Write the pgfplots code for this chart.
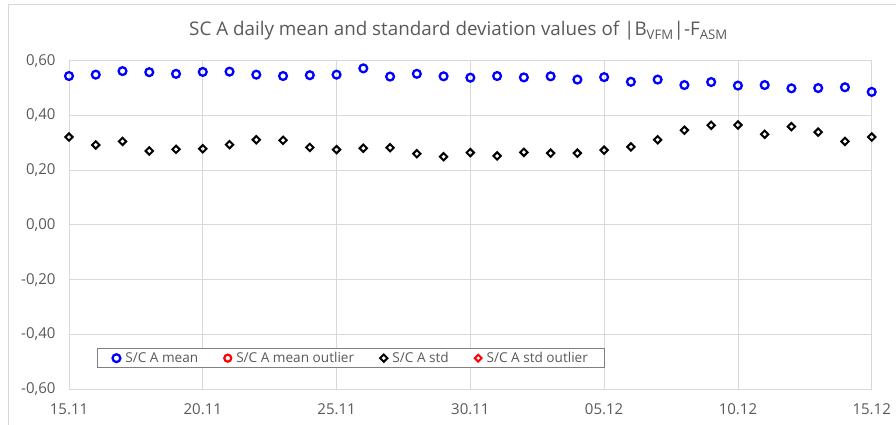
\documentclass[border=0pt]{standalone}
\usepackage{fontspec}
\setmainfont{Open Sans}
\usepackage{pgfplots}
\pgfplotsset{compat=1.18}
\definecolor{txtgray}{HTML}{595959}
\definecolor{gridgray}{HTML}{D9D9D9}
\definecolor{legbox}{HTML}{808080}
\definecolor{mblue}{RGB}{0,0,255}
\definecolor{mred}{RGB}{255,0,0}
\begin{document}
\begin{tikzpicture}
\path[use as bounding box] (-69pt,-36pt) rectangle (827pt,389pt);
\draw[gridgray,line width=1pt] (-60pt,-40pt) -- (-60pt,384pt) -- (830pt,384pt);
\begin{axis}[
  scale only axis,
  width=802.7pt, height=328.3pt,
  xmin=0, xmax=30, ymin=-0.6, ymax=0.6,
  xtick={0,5,10,15,20,25,30},
  xticklabels={15.11,20.11,25.11,30.11,05.12,10.12,15.12},
  ytick={-0.6,-0.4,-0.2,0,0.2,0.4,0.6},
  yticklabels={{-0,60},{-0,40},{-0,20},{0,00},{0,20},{0,40},{0,60}},
  major tick length=0pt,
  grid=major,
  major grid style={draw=gridgray, line width=0.8pt},
  axis line style={draw=none},
  tick label style={font=\fontsize{15}{18}\selectfont, text=txtgray},
  yticklabel style={xshift=-10pt},
  xticklabel style={yshift=-11pt},
  clip=false,
  legend columns=4,
  legend style={at={(0.3516,0.064)}, anchor=south, draw=legbox, line width=0.8pt,
    font=\fontsize{13.6}{16}\selectfont, text=txtgray, inner xsep=15pt, inner ysep=1.5pt,
    /tikz/every odd column/.append style={column sep=3pt},
    /tikz/every even column/.append style={column sep=24pt}},
  legend image code/.code={\draw[mark repeat=2,mark phase=2,#1] plot coordinates {(0pt,0pt)(5pt,0pt)(10pt,0pt)};},
]
\addplot[only marks, mark=o, mark size=3.9pt, mblue, mark options={line width=2.3pt}] coordinates {
(0,0.544) (1,0.549) (2,0.562) (3,0.558) (4,0.552) (5,0.559) (6,0.560) (7,0.549)
(8,0.544) (9,0.547) (10,0.549) (11,0.572) (12,0.542) (13,0.552) (14,0.543) (15,0.538)
(16,0.544) (17,0.539) (18,0.543) (19,0.531) (20,0.540) (21,0.523) (22,0.531) (23,0.511)
(24,0.522) (25,0.509) (26,0.511) (27,0.499) (28,0.500) (29,0.503) (30,0.486)
};
\addlegendentry{S/C A mean}
\addlegendimage{only marks, mark=o, mark size=3.5pt, mred, mark options={line width=2.2pt}}
\addlegendentry{S/C A mean outlier}
\addplot[only marks, mark=square, mark size=2.6pt, black, mark options={rotate=45, line width=2pt}] coordinates {
(0,0.321) (1,0.292) (2,0.305) (3,0.270) (4,0.276) (5,0.278) (6,0.293) (7,0.311)
(8,0.309) (9,0.283) (10,0.275) (11,0.280) (12,0.282) (13,0.260) (14,0.249) (15,0.264)
(16,0.252) (17,0.265) (18,0.262) (19,0.262) (20,0.273) (21,0.285) (22,0.311) (23,0.346)
(24,0.364) (25,0.365) (26,0.331) (27,0.359) (28,0.339) (29,0.305) (30,0.321)
};
\addlegendentry{S/C A std}
\addlegendimage{only marks, mark=square, mark size=2.4pt, mred, mark options={rotate=45, line width=2pt}}
\addlegendentry{S/C A std outlier}
\end{axis}
\node[anchor=base, text=txtgray, font=\fontsize{18.8}{22}\selectfont] at (389.5pt,353.3pt)
  {SC A daily mean and standard deviation values of |B\textsubscript{VFM}|-F\textsubscript{ASM}};
\end{tikzpicture}
\end{document}
